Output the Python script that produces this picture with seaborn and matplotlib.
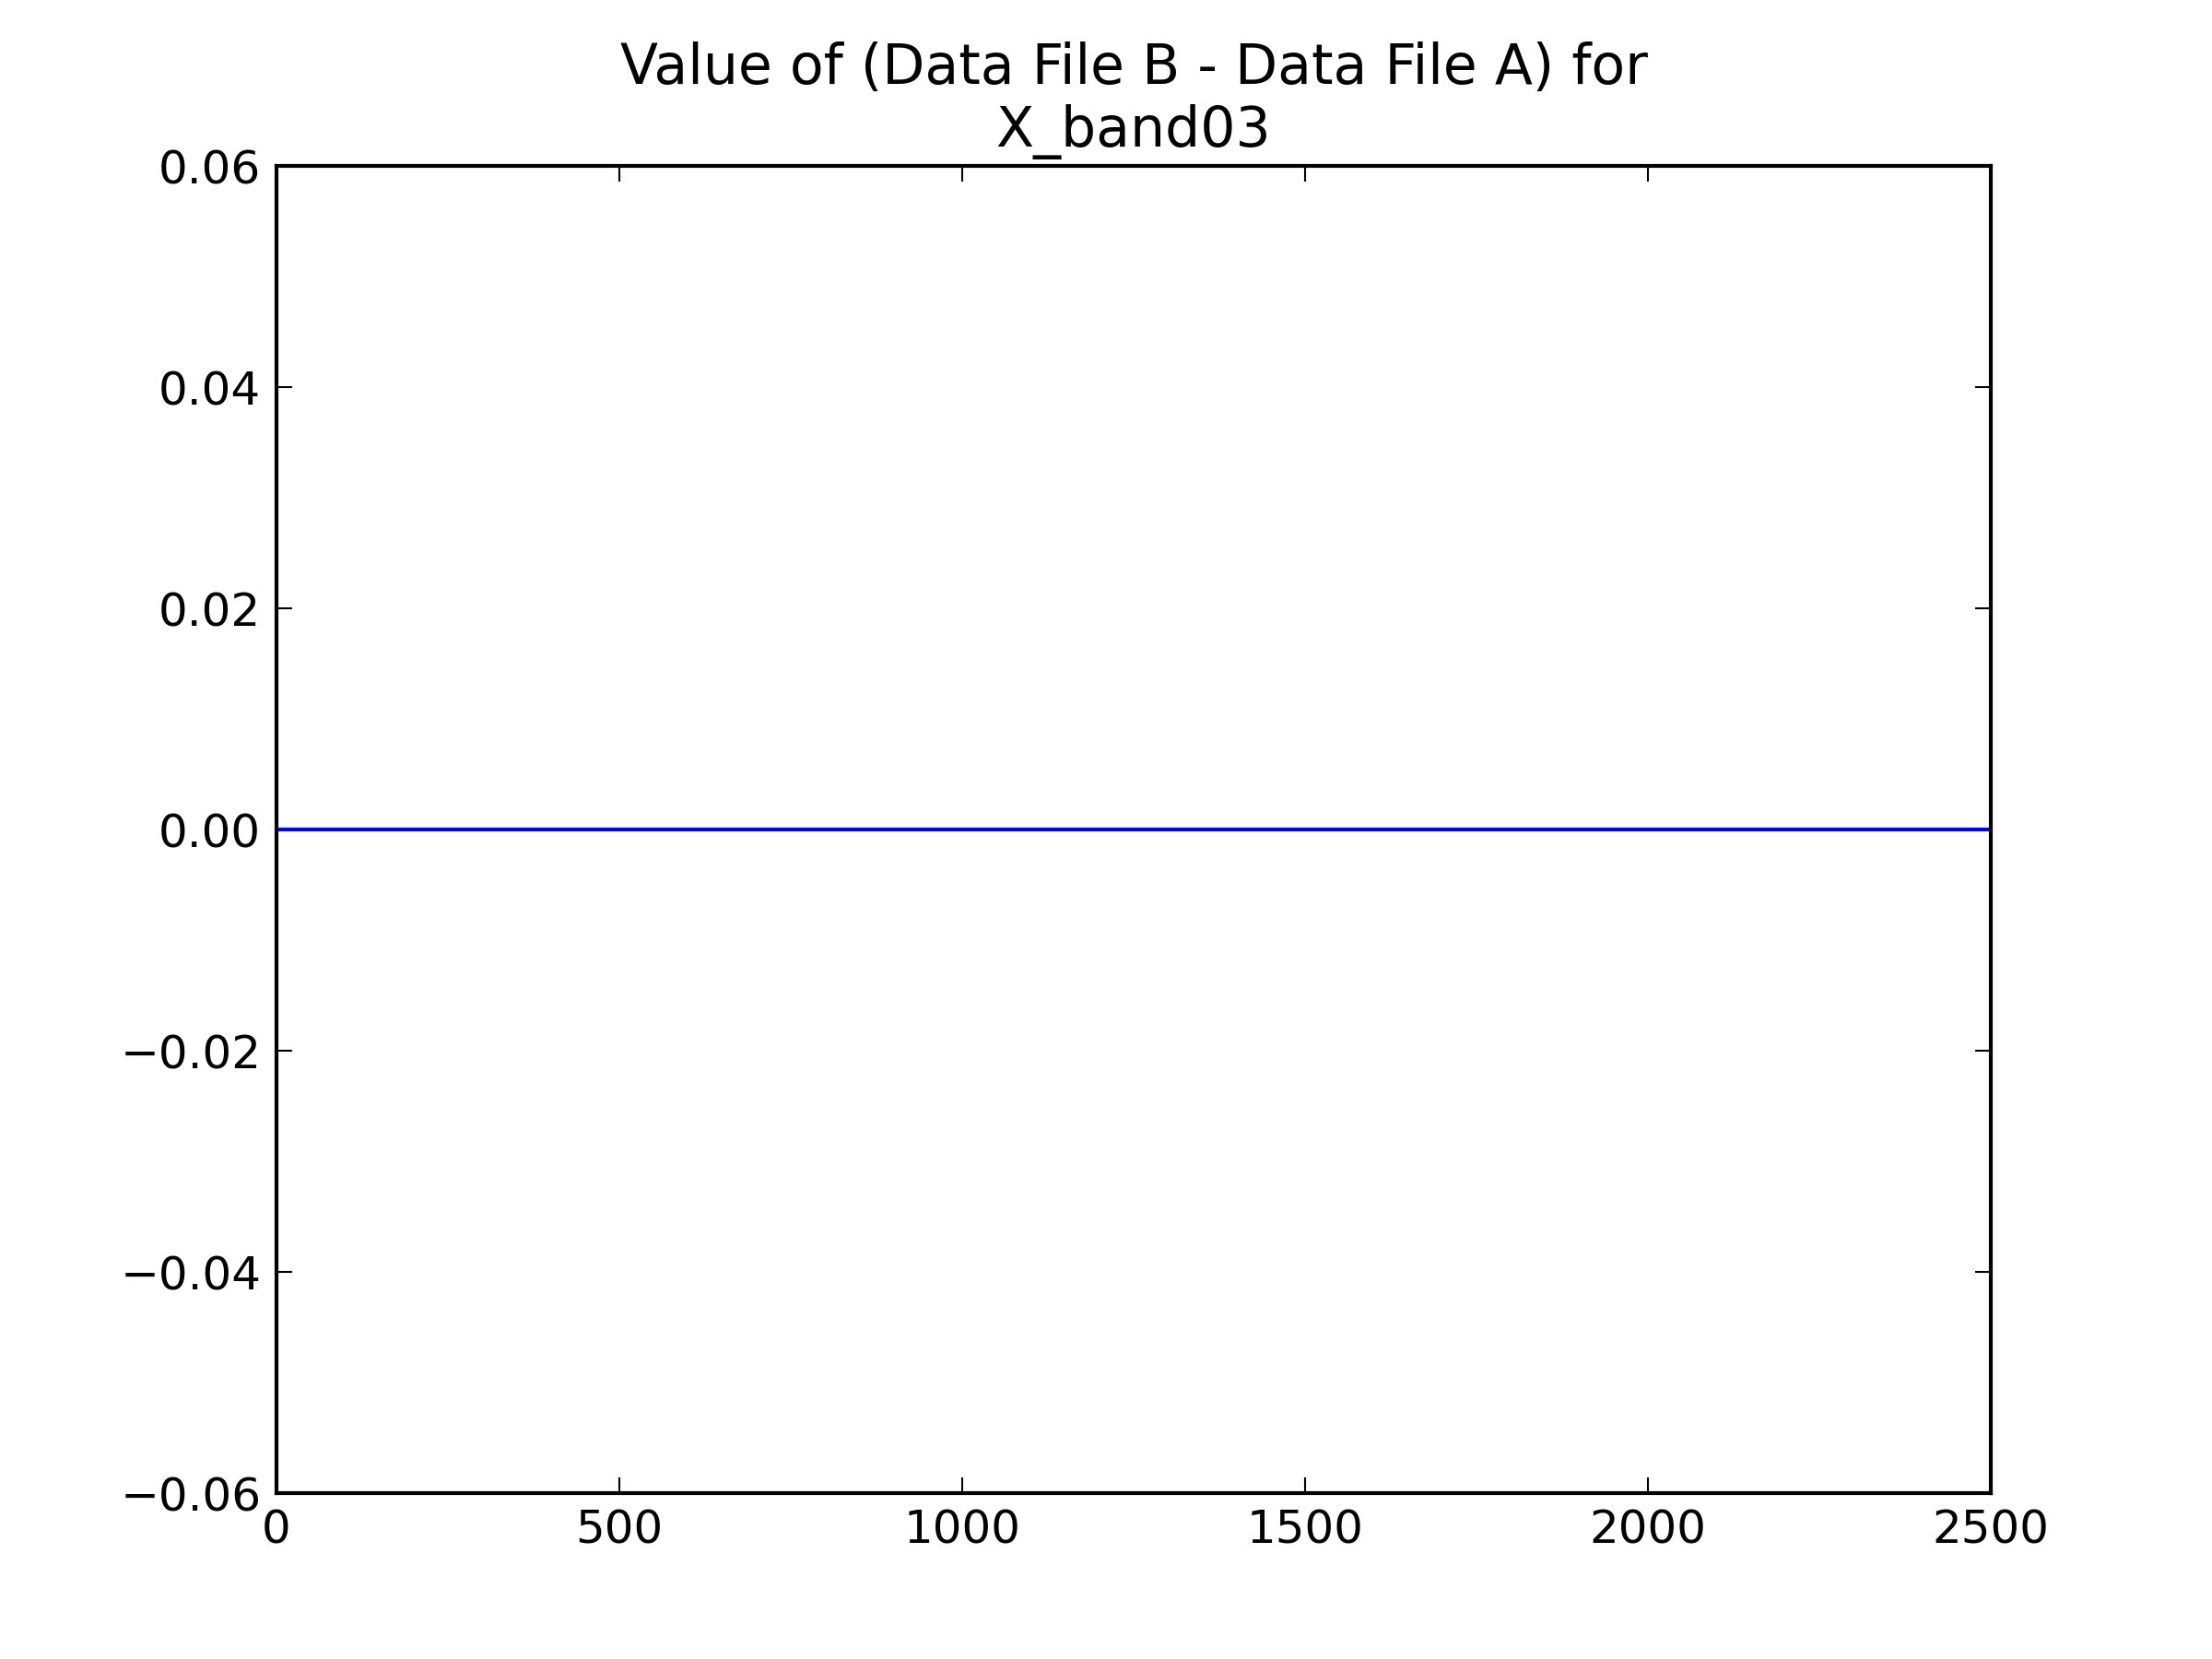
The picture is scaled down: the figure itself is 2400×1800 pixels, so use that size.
import numpy as np
import pandas as pd
import matplotlib
matplotlib.use("Agg")
import matplotlib.pyplot as plt
import seaborn as sns

# data: difference is zero across the whole range
sample_index = [0, 2500]
diff_values = [0.0, 0.0]
band_name = "X_band03"

sns.set_style("white")
plt.rcParams['font.family'] = ['DejaVu Sans']
plt.rcParams.update({
    'font.size': 12,
    'text.color': 'black',
    'axes.labelcolor': 'black',
    'axes.linewidth': 1.0,
    'axes.edgecolor': 'black',
    'xtick.direction': 'in',
    'ytick.direction': 'in',
    'xtick.top': True,
    'ytick.right': True,
    'xtick.bottom': True,
    'ytick.left': True,
    'xtick.major.size': 4,
    'ytick.major.size': 4,
    'xtick.major.width': 0.5,
    'ytick.major.width': 0.5,
    'xtick.major.pad': 4,
    'ytick.major.pad': 4,
    'xtick.color': 'black',
    'ytick.color': 'black',
})

df = pd.DataFrame({'index': sample_index, 'diff': diff_values})

fig = plt.figure(figsize=(8, 6), dpi=300)
ax = fig.add_axes([0.125, 0.1, 0.775, 0.8])
sns.lineplot(data=df, x='index', y='diff', color='b', linewidth=1.0, ax=ax)

ax.set_xlim(0, 2500)
ax.set_ylim(-0.06, 0.06)
ax.set_xticks(np.arange(0, 2501, 500))
yt = np.arange(-0.06, 0.061, 0.02)
ax.set_yticks(yt)
ax.set_yticklabels([f"{v:.2f}".replace('-', '\u2212') for v in yt])
ax.set_xlabel('')
ax.set_ylabel('')
ax.tick_params(labelsize=12, labelcolor='black')
ax.set_title(f"Value of (Data File B - Data File A) for\n{band_name}", fontsize=14.4, pad=5, color='black')

fig.savefig("out.png", dpi=300, facecolor='white')
plt.close(fig)
